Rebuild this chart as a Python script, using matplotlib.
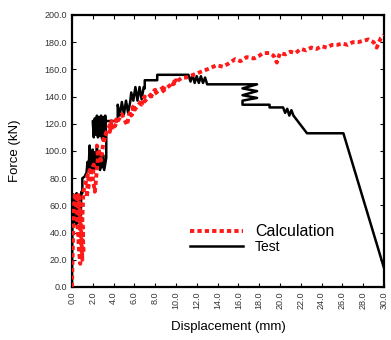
import matplotlib
matplotlib.use("Agg")
import matplotlib.pyplot as plt

plt.rcParams['font.family'] = ['Liberation Sans', 'DejaVu Sans']

# Test curve (displacement in axis units, force in kN)
test_x = [0, 0.05, 0.1, 0.15, 0.25, 0.3, 0.4, 0.45, 0.55, 0.6, 0.7, 0.75, 0.85, 0.9, 1.0, 1.0,
          1.2, 1.4, 1.5, 1.6, 1.7, 1.8, 1.9, 2.0, 2.1, 2.2, 2.3, 2.4, 2.5, 2.6, 2.7, 2.8, 2.9, 3.0, 3.1, 3.3,
          3.3, 3.2, 3.1, 3.0, 2.9, 2.8, 2.7, 2.6, 2.5, 2.4, 2.3, 2.2, 2.1, 2.0,
          4.4, 4.4, 4.6, 4.8, 5.0, 5.2, 5.4, 5.6, 5.7, 5.9, 6.1, 6.3, 6.5, 6.7, 6.9, 7.0, 7.0,
          8.2, 8.2, 11.2, 11.4, 11.6, 11.8, 12.0, 12.2, 12.4, 12.6, 12.8, 13.0,
          17.8, 16.4, 17.8, 16.4, 17.8, 16.4, 16.4, 19.0, 19.0, 20.3,
          20.5, 20.7, 20.9, 21.1, 21.3, 22.6, 26.1, 30.0]
test_f = [0, 55, 47, 68, 48, 66, 46, 69, 47, 64, 48, 67, 50, 70, 69, 80,
          81, 84, 92, 86, 104, 95, 87, 101, 86, 99, 88, 104, 89, 100, 86, 98, 88, 97, 86, 95,
          110, 126, 110, 125, 109, 126, 111, 125, 110, 126, 112, 124, 110, 122,
          122, 134, 126, 136, 127, 137, 128, 136, 143, 137, 147, 137, 147, 138, 147, 146, 152,
          152, 156, 156, 151, 156, 150, 155, 150, 155, 150, 154, 149,
          149, 146, 144, 141, 139, 137, 134, 134, 132, 132,
          128, 131, 126, 130, 126, 113, 113, 14]

# Calculation curve
calc_x = [0, 0.1, 0.2, 0.3, 0.5, 0.7, 0.8, 0.7, 0.5, 0.45, 0.7, 0.9, 1.0, 0.9, 0.7, 0.6,
          0.9, 1.05, 1.1, 1.0, 1.1, 1.3, 1.5, 1.7, 1.5, 1.4, 1.6, 1.9, 2.1, 2.0, 2.2, 2.3,
          2.5, 2.4, 2.6, 2.8, 3.0, 3.3, 3.0, 3.8, 3.65, 4.4, 4.1, 4.8, 5.3, 5.5, 6.0, 5.7,
          6.1, 7.0, 6.7, 8.0, 7.6, 9.0, 8.6, 10.0, 9.7, 10.6, 11.0, 12.0, 13.0, 13.9, 14.5,
          15.0, 15.7, 16.2, 16.8, 17.5, 18.0, 18.4, 19.0, 19.4, 19.7, 20.0, 20.5, 21.0, 21.5,
          22.0, 22.5, 23.0, 23.5, 24.0, 24.5, 25.0, 25.5, 26.0, 26.5, 27.0, 27.5, 28.0, 28.5,
          29.0, 29.3, 29.7, 30.0]
calc_f = [0, 35, 60, 69, 50, 25, 17, 35, 60, 68, 52, 30, 20, 40, 62, 69,
          55, 40, 25, 50, 70, 76, 82, 86, 75, 66, 74, 86, 90, 80, 70, 78,
          95, 104, 100, 93, 105, 113, 108, 122, 114, 125, 118, 127, 119, 127, 134, 126,
          131, 140, 134, 145, 140, 148, 143, 152, 149, 154, 154, 157, 160, 163, 162,
          164, 167.5, 166, 169, 168, 170, 172, 172, 170, 165, 172, 171, 173, 172,
          175, 174, 176, 175, 177, 176, 178, 178, 179, 178, 180, 180, 181, 182,
          180, 176, 183, 185]

x_ticks = [0, 2, 4, 6, 8, 10, 12, 14, 16, 18, 20, 22, 24, 26, 28, 30]
y_ticks = [0, 20, 40, 60, 80, 100, 120, 140, 160, 180, 200]

fig = plt.figure(figsize=(3.91, 3.40), dpi=100)
ax = fig.add_axes([0.184, 0.156, 0.798, 0.800])

ax.plot(calc_x, calc_f, color="#ff1a1a", lw=2.8, dashes=(1.1, 0.8), label="Calculation", zorder=3)
ax.plot(test_x, test_f, color="black", lw=1.8, label="Test", zorder=2)

ax.set_xlim(0, 30)
ax.set_ylim(0, 200)
ax.set_xticks(x_ticks)
ax.set_yticks(y_ticks)
ax.set_xticklabels(["%.1f" % v for v in x_ticks], rotation=90)
ax.set_yticklabels(["%.1f" % v for v in y_ticks])
ax.tick_params(direction="in", length=3, width=0.8, labelsize=6.5, labelcolor="#333333",
               top=True, right=True)
for s in ax.spines.values():
    s.set_linewidth(1.6)

ax.set_xlabel("Displacement (mm)", fontsize=9.5, labelpad=8)
ax.set_ylabel("Force (kN)", fontsize=9.5, labelpad=17)

leg = ax.legend(loc="lower left", bbox_to_anchor=(0.36, 0.1), frameon=False,
                handlelength=3.8, handletextpad=0.9, labelspacing=0.1, borderaxespad=0)
leg.get_texts()[0].set_fontsize(11.5)
leg.get_texts()[1].set_fontsize(10)

plt.savefig("out.png", dpi=100)
plt.close()
